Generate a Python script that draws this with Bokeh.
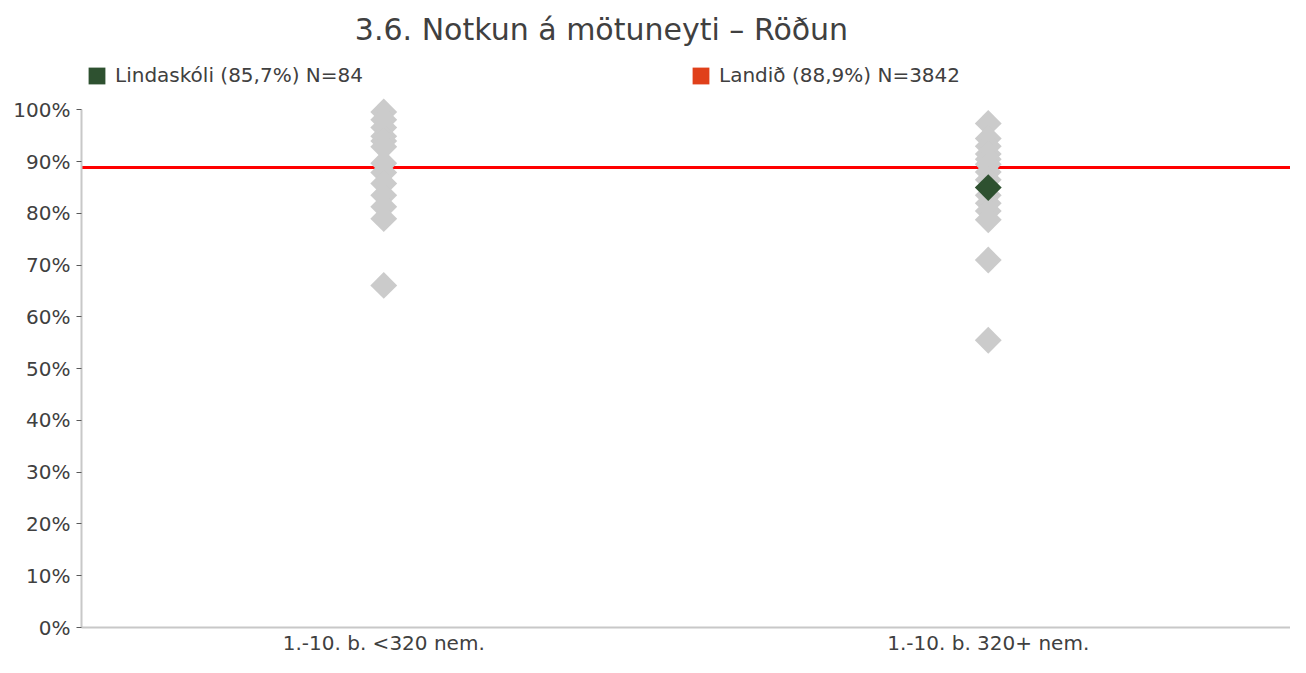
import math
from bokeh.plotting import figure
from bokeh.models import (FactorRange, Range1d, FixedTicker, PrintfTickFormatter,
                          Span, Label, Legend, LegendItem, ColumnDataSource)
from bokeh.embed import file_html
from bokeh.resources import INLINE

# ---- data ----
title_text = "3.6. Notkun á mötuneyti – Röðun"
categories = ["1.-10. b. <320 nem.", "1.-10. b. 320+ nem."]
small_school_values = [99.6, 98.1, 96.6, 94.9, 94.0, 92.9, 89.7, 87.9, 85.8, 83.5, 81.3, 79.0, 66.1]
large_school_values = [97.4, 94.5, 93.0, 91.5, 90.5, 89.5, 88.0, 86.5, 83.5, 82.0, 80.5, 78.8, 71.0, 55.5]
school_category = "1.-10. b. 320+ nem."
school_value = 85.0
national_value = 88.9
school_label = "Lindaskóli (85,7%) N=84"
national_label = "Landið (88,9%) N=3842"
y_ticks = [0, 10, 20, 30, 40, 50, 60, 70, 80, 90, 100]

FONT = "DejaVu Sans"
TEXT = "#404040"
GRAY = "#CBCBCB"
GREEN = "#2E5130"
ORANGE = "#E0401A"
RED = "#FF0000"

W, H = 1290, 657
FRAME_LEFT, FRAME_BOTTOM = 81, 630
Y100_PX = 110  # pixel row of the 100% tick
# the frame runs to the top of the canvas so that the title and legend sit inside it
y_top = 100.0 * FRAME_BOTTOM / (FRAME_BOTTOM - Y100_PX)

p = figure(width=W, height=H, x_range=FactorRange(*categories, range_padding=0),
           y_range=Range1d(0, y_top), output_backend="svg", toolbar_location=None,
           min_border_left=FRAME_LEFT, min_border_right=0, min_border_top=0,
           min_border_bottom=H - FRAME_BOTTOM)
p.outline_line_color = None
p.xgrid.grid_line_color = None
p.ygrid.grid_line_color = None
p.background_fill_color = "white"
p.border_fill_color = "white"

# national average line (behind markers)
p.add_layout(Span(location=national_value, dimension="width", line_color=RED,
                  line_width=3, level="underlay"))

gx = [categories[0]] * len(small_school_values) + [categories[1]] * len(large_school_values)
gy = small_school_values + large_school_values
p.scatter(x=gx, y=gy, marker="square", angle=math.pi / 4, size=19,
          fill_color=GRAY, line_color=None)
p.scatter(x=[school_category], y=[school_value], marker="square", angle=math.pi / 4,
          size=19, fill_color=GREEN, line_color=None)

# legend swatches (renderers with a single NaN row: nothing drawn in the plot)
nan = float("nan")
r_green = p.quad(left="x", right="x", top="y", bottom="y",
                 source=ColumnDataSource(dict(x=[nan], y=[nan])), fill_color=GREEN, line_color=None)
r_orange = p.quad(left="x", right="x", top="y", bottom="y",
                  source=ColumnDataSource(dict(x=[nan], y=[nan])), fill_color=ORANGE, line_color=None)

def make_legend(item_label, renderer, loc):
    lg = Legend(items=[LegendItem(label=item_label, renderers=[renderer])], location=loc,
                orientation="horizontal", padding=0, margin=0, border_line_color=None,
                background_fill_alpha=0, glyph_width=21, glyph_height=21, label_height=21,
                label_standoff=8, label_text_font=FONT, label_text_font_size="20px",
                label_text_color=TEXT, label_text_baseline="middle", spacing=0)
    p.add_layout(lg, "center")

LEG_TOP = 69
make_legend(school_label, r_green, (86 - FRAME_LEFT, FRAME_BOTTOM - LEG_TOP - 21))
make_legend(national_label, r_orange, (690 - FRAME_LEFT, FRAME_BOTTOM - LEG_TOP - 21))

# title
p.add_layout(Label(x=601 - FRAME_LEFT, y=FRAME_BOTTOM - 32, x_units="screen", y_units="screen",
                   text=title_text, text_align="center", text_baseline="middle",
                   text_font=FONT, text_font_size="30px", text_color=TEXT))

# axes
ya = p.yaxis[0]
ya.bounds = (0, 100)
ya.ticker = FixedTicker(ticks=y_ticks)
ya.formatter = PrintfTickFormatter(format="%d%%")
ya.axis_line_color = "#C8C8C8"
ya.axis_line_width = 2
ya.major_tick_in = 0
ya.major_tick_out = 5
ya.major_tick_line_color = "#595959"
ya.minor_tick_line_color = None
ya.major_label_standoff = 6
ya.major_label_text_font = FONT
ya.major_label_text_font_size = "20px"
ya.major_label_text_color = TEXT

xa = p.xaxis[0]
xa.axis_line_color = "#C8C8C8"
xa.axis_line_width = 2
xa.major_tick_line_color = None
xa.minor_tick_line_color = None
xa.major_tick_in = 0
xa.major_tick_out = 0
xa.major_label_standoff = 3
xa.major_label_text_font = FONT
xa.major_label_text_font_size = "20px"
xa.major_label_text_color = TEXT

open("out.html", "w").write(file_html(p, INLINE))
